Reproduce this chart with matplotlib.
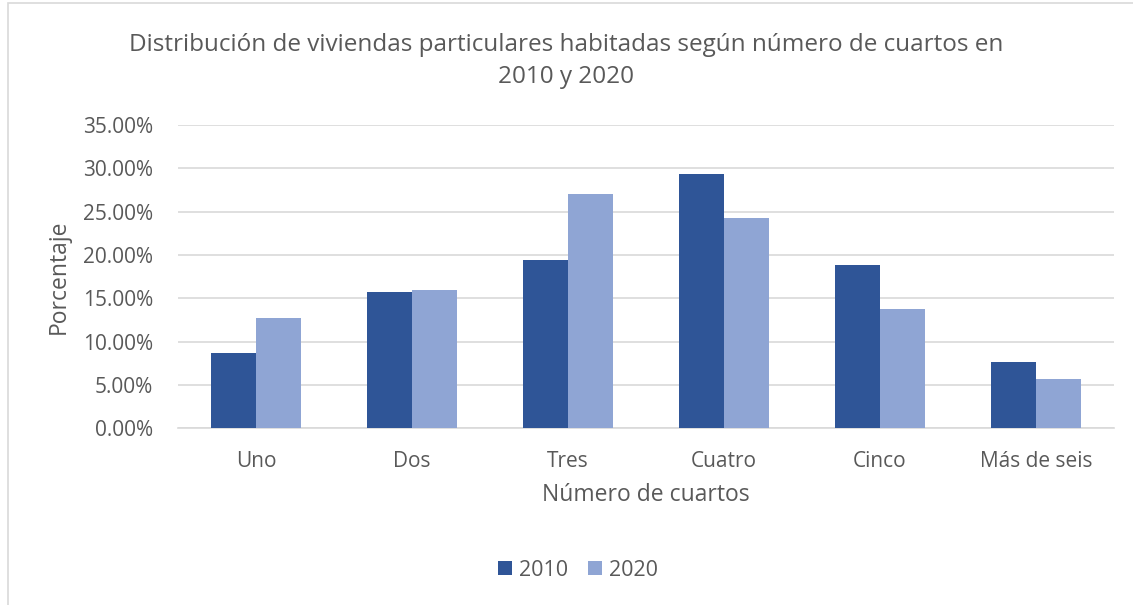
import numpy as np
import matplotlib.pyplot as plt
from matplotlib.ticker import FuncFormatter
from matplotlib.patches import Rectangle

plt.rcParams['font.family'] = ['Open Sans', 'DejaVu Sans']

# Data (percent)
categories = ['Uno', 'Dos', 'Tres', 'Cuatro', 'Cinco', 'Más de seis']
pct_2010 = [8.65, 15.7, 19.4, 29.35, 18.9, 7.65]
pct_2020 = [12.75, 16.0, 27.05, 24.3, 13.75, 5.7]

color_2010 = '#2F5597'
color_2020 = '#8FA5D4'
text_color = '#595959'

W, H = 1133, 605
fig = plt.figure(figsize=(W / 100, H / 100), dpi=100)
ax_left, ax_right, ax_top, ax_bottom = 178, 1114, 125, 428.3
ax = fig.add_axes([ax_left / W, 1 - ax_bottom / H, (ax_right - ax_left) / W, (ax_bottom - ax_top) / H])

x = np.arange(len(categories))
w = 0.288
ax.bar(x - w / 2, pct_2010, width=w, color=color_2010, label='2010', zorder=3)
ax.bar(x + w / 2, pct_2020, width=w, color=color_2020, label='2020', zorder=3)

ax.set_xlim(-0.5, len(categories) - 0.5)
ax.set_ylim(0, 35)
ax.set_yticks(np.arange(0, 36, 5))
ax.yaxis.set_major_formatter(FuncFormatter(lambda v, p: f'{v:.2f}%'))
ax.set_xticks(x)
ax.set_xticklabels(categories)
ax.grid(axis='y', color='#D9D9D9', linewidth=1.2, zorder=0)
for s in ['top', 'right', 'left']:
    ax.spines[s].set_visible(False)
ax.spines['bottom'].set_color('#D9D9D9')
ax.spines['bottom'].set_linewidth(1.2)
ax.tick_params(length=0, labelsize=15, labelcolor=text_color)
ax.tick_params(axis='y', pad=18)
ax.tick_params(axis='x', pad=16)

ax.set_xlabel('Número de cuartos', fontsize=16.5, color=text_color)
ax.set_ylabel('Porcentaje', fontsize=16.5, color=text_color)
# axis title positions in pixels
ax.xaxis.set_label_coords(0.5, -(495 - ax_bottom) / (ax_bottom - ax_top))
ax.yaxis.set_label_coords(-(ax_left - 59) / (ax_right - ax_left), (ax_bottom - 277) / (ax_bottom - ax_top))
ax.xaxis.label.set_va('center')
ax.yaxis.label.set_va('center')

fig.text(0.5, 1 - 61 / H, 'Distribución de viviendas particulares habitadas según número de cuartos en\n2010 y 2020',
         ha='center', va='center', fontsize=17.5, color=text_color, linespacing=1.4)

ax.legend(loc='center', bbox_to_anchor=(578 / W, 1 - 570 / H), bbox_transform=fig.transFigure,
          ncol=2, frameon=False, fontsize=15.5, labelcolor=text_color,
          handlelength=0.65, handleheight=0.65, handletextpad=0.3, columnspacing=0.95)

fig.patches.append(Rectangle((8 / W, -0.01), 1.1, 1 - 3 / H + 0.01, transform=fig.transFigure,
                             fill=False, edgecolor='#D9D9D9', linewidth=1.2))

fig.savefig('out.png', dpi=100)
